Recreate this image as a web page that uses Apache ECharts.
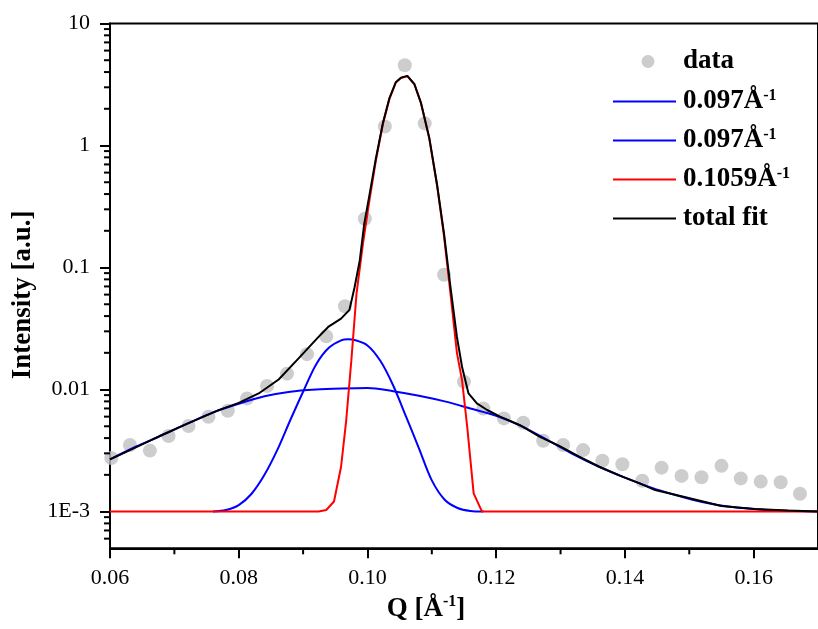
<!DOCTYPE html>
<html>
<head>
<meta charset="utf-8">
<script src="https://cdn.jsdelivr.net/npm/echarts@6/dist/echarts.min.js"></script>
<style>html,body{margin:0;padding:0;background:#fff;}#c{width:818px;height:629px;}</style>
</head>
<body>
<div id="c"></div>
<script>
// measured data points
const dataQ = [0.0602,0.0631,0.0662,0.0691,0.0722,0.0753,0.0783,0.0813,0.0844,0.0875,0.0906,0.0936,0.0965,0.0996,0.1027,0.1058,0.1089,0.1119,0.1150,0.1180,0.1212,0.1242,0.1273,0.1304,0.1335,0.1365,0.1396,0.1427,0.1457,0.1488,0.1519,0.1550,0.1580,0.1611,0.1642,0.1672];
const dataI = [2.75e-3,3.51e-3,3.16e-3,4.16e-3,5.02e-3,5.98e-3,6.70e-3,8.46e-3,1.07e-2,1.35e-2,1.95e-2,2.73e-2,4.81e-2,0.251,1.43,4.55,1.52,0.0873,1.16e-2,7.0e-3,5.8e-3,5.34e-3,3.81e-3,3.51e-3,3.19e-3,2.61e-3,2.44e-3,1.79e-3,2.29e-3,1.96e-3,1.91e-3,2.37e-3,1.87e-3,1.76e-3,1.74e-3,1.40e-3];

// broad component (0.097 Å^-1)
const broadQ = [0.060,0.064,0.068,0.072,0.076,0.080,0.084,0.088,0.092,0.096,0.100,0.104,0.108,0.112,0.116,0.120,0.124,0.128,0.132,0.136,0.140,0.144,0.148,0.152,0.156,0.160,0.164,0.170];
const broadI = [2.68e-3,3.4e-3,4.2e-3,5.25e-3,6.5e-3,7.65e-3,8.8e-3,9.6e-3,1.0e-2,1.02e-2,1.03e-2,9.7e-3,8.9e-3,8.0e-3,7.0e-3,6.1e-3,5.0e-3,3.85e-3,2.95e-3,2.33e-3,1.9e-3,1.58e-3,1.36e-3,1.2e-3,1.1e-3,1.05e-3,1.02e-3,1.0e-3];

// narrow component (0.097 Å^-1)
const narrowQ = [0.076,0.078,0.080,0.082,0.084,0.086,0.088,0.090,0.092,0.094,0.096,0.097,0.098,0.100,0.102,0.104,0.106,0.108,0.110,0.112,0.114,0.116,0.118];
const narrowI = [1.0e-3,1.03e-3,1.13e-3,1.4e-3,2.0e-3,3.2e-3,5.6e-3,9.6e-3,1.6e-2,2.2e-2,2.54e-2,2.58e-2,2.55e-2,2.3e-2,1.72e-2,1.08e-2,6.0e-3,3.3e-3,1.8e-3,1.25e-3,1.07e-3,1.01e-3,1.0e-3];

// sharp component (0.1059 Å^-1)
const sharpQ = [0.0600,0.0924,0.0936,0.0948,0.0959,0.0967,0.0975,0.0983,0.0993,0.1003,0.1013,0.1024,0.1034,0.1044,0.1052,0.1062,0.1073,0.1083,0.1096,0.1108,0.1119,0.1129,0.1139,0.1147,0.1155,0.1165,0.1178,0.1700];
const sharpI = [1.0e-3,1.0e-3,1.03e-3,1.21e-3,2.33e-3,5.6e-3,1.74e-2,0.061,0.157,0.354,0.749,1.50,2.40,3.28,3.58,3.70,3.17,2.24,1.15,0.475,0.18,0.061,0.020,0.0119,4.95e-3,1.41e-3,1.0e-3,1.0e-3];

// total fit
const totalQ = [0.0600,0.0631,0.0677,0.0723,0.0769,0.0800,0.0831,0.0862,0.0893,0.0924,0.0939,0.0959,0.0972,0.0980,0.0988,0.0995,0.1003,0.1013,0.1024,0.1034,0.1044,0.1052,0.1062,0.1073,0.1083,0.1096,0.1108,0.1119,0.1129,0.1139,0.1147,0.1157,0.1170,0.1186,0.1206,0.1237,0.1268,0.1298,0.1329,0.1360,0.1391,0.1422,0.1447,0.1499,0.1550,0.1602,0.1653,0.1700];
const totalI = [2.68e-3,3.19e-3,4.16e-3,5.34e-3,6.79e-3,7.78e-3,9.29e-3,1.21e-2,1.80e-2,2.70e-2,3.26e-2,3.81e-2,4.5e-2,6.9e-2,0.114,0.228,0.39,0.78,1.53,2.43,3.3,3.6,3.72,3.18,2.25,1.16,0.484,0.189,0.069,0.027,0.0153,9.3e-3,7.7e-3,6.8e-3,6.0e-3,5.1e-3,4.1e-3,3.45e-3,2.82e-3,2.33e-3,1.98e-3,1.71e-3,1.50e-3,1.29e-3,1.11e-3,1.05e-3,1.02e-3,1.0e-3];

// legend / labels
const seriesNames = ['data','broad','narrow','sharp','total'];
const legendMain = ['data','0.097Å','0.097Å','0.1059Å','total fit'];
const legendSup = ['','-1','-1','-1',''];
const yTickValues = [0.001,0.01,0.1,1,10];
const yTickLabels = ['1E-3','0.01','0.1','1','10'];
const yMinorTicks = [6e-4,7e-4,8e-4,9e-4,2e-3,3e-3,4e-3,5e-3,6e-3,7e-3,8e-3,9e-3,2e-2,3e-2,4e-2,5e-2,6e-2,7e-2,8e-2,9e-2,0.2,0.3,0.4,0.5,0.6,0.7,0.8,0.9,2,3,4,5,6,7,8,9];
const xMinorTicks = [0.07,0.09,0.11,0.13,0.15];

const FONT = '"Liberation Serif", "Times New Roman", serif';
const zip = (a, b) => a.map((v, i) => [v, b[i]]);

const chart = echarts.init(document.getElementById('c'));

function tickSeries(id, vals, isY) {
  return {
    type: 'custom', id: id, silent: true, clip: false, z: 10,
    data: vals.map(v => isY ? [0.06, v] : [v, 5e-4]),
    encode: {x: 0, y: 1},
    renderItem: function (params, api) {
      const c = api.coord([api.value(0), api.value(1)]);
      const shape = isY ? {x1: c[0] - 6, y1: c[1], x2: c[0], y2: c[1]}
                        : {x1: c[0], y1: c[1], x2: c[0], y2: c[1] + 6};
      return {type: 'line', shape: shape, style: {stroke: '#000', lineWidth: 2}};
    }
  };
}

const legendRich = {
  b: {fontFamily: FONT, fontSize: 27, fontWeight: 'bold', color: '#000', lineHeight: 27},
  sup: {fontFamily: FONT, fontSize: 16, fontWeight: 'bold', color: '#000', lineHeight: 16, verticalAlign: 'top'}
};
const legendFormatter = function (name) {
  const i = seriesNames.indexOf(name);
  return '{b|' + legendMain[i] + '}' + (legendSup[i] ? '{sup|' + legendSup[i] + '}' : '');
};

chart.setOption({
  animation: false,
  backgroundColor: '#fff',
  grid: {left: 110, right: -6, top: 23.5, bottom: 80.7, show: true, borderColor: '#000', borderWidth: 2},
  legend: [
    {
      orient: 'vertical', left: 641.5, top: 48, padding: 0,
      itemWidth: 13, itemHeight: 13, icon: 'circle',
      data: seriesNames.slice(0, 1),
      formatter: legendFormatter,
      textStyle: {padding: [0, 0, 0, 23.5], rich: legendRich}
    },
    {
      orient: 'vertical', left: 613, top: 88, padding: 0, itemGap: 12,
      itemWidth: 63, itemHeight: 2, icon: 'rect',
      data: seriesNames.slice(1),
      formatter: legendFormatter,
      textStyle: {padding: [0, 0, 0, 2], rich: legendRich}
    }
  ],
  xAxis: {
    type: 'value', min: 0.06, max: 0.17, interval: 0.02,
    name: '{b|Q [Å}{sup|-1}{b|]}', nameLocation: 'middle', nameGap: 45,
    nameTextStyle: {padding: [0, 76, 0, 0], rich: {
      b: {fontFamily: FONT, fontSize: 27, fontWeight: 'bold', color: '#000', lineHeight: 30},
      sup: {fontFamily: FONT, fontSize: 16, fontWeight: 'bold', color: '#000', lineHeight: 16, verticalAlign: 'top'}
    }},
    axisLine: {show: true, lineStyle: {color: '#000', width: 2}},
    axisTick: {show: true, inside: false, length: 10, lineStyle: {color: '#000', width: 2}},
    axisLabel: {fontFamily: FONT, fontSize: 22, color: '#000', margin: 19, showMaxLabel: false,
      formatter: v => v.toFixed(2)},
    splitLine: {show: false}
  },
  yAxis: {
    type: 'log', logBase: 10, min: 5e-4, max: 10,
    name: 'Intensity [a.u.]', nameLocation: 'middle', nameGap: 70, nameRotate: 90,
    nameTextStyle: {fontFamily: FONT, fontSize: 27, fontWeight: 'bold', color: '#000', padding: [0, 18, 0, 0]},
    axisLine: {show: true, lineStyle: {color: '#000', width: 2}},
    axisTick: {show: true, inside: false, length: 10, lineStyle: {color: '#000', width: 2}},
    axisLabel: {fontFamily: FONT, fontSize: 22, color: '#000', margin: 20, showMinLabel: false,
      formatter: function (v) {
        for (let i = 0; i < yTickValues.length; i++) {
          if (Math.abs(Math.log10(v) - Math.log10(yTickValues[i])) < 1e-6) return yTickLabels[i];
        }
        return '';
      }},
    splitLine: {show: false}
  },
  series: [
    {name: 'data', type: 'scatter', data: zip(dataQ, dataI), symbol: 'circle', symbolSize: 14,
     itemStyle: {color: '#c0c0c0'}, z: 2},
    {name: 'broad', type: 'line', data: zip(broadQ, broadI), symbol: 'none', smooth: 0.3,
     lineStyle: {color: '#0000ff', width: 2}, itemStyle: {color: '#0000ff'}, z: 3},
    {name: 'narrow', type: 'line', data: zip(narrowQ, narrowI), symbol: 'none', smooth: 0.3,
     lineStyle: {color: '#0000ff', width: 2}, itemStyle: {color: '#0000ff'}, z: 3},
    {name: 'sharp', type: 'line', data: zip(sharpQ, sharpI), symbol: 'none',
     lineStyle: {color: '#ff0000', width: 2}, itemStyle: {color: '#ff0000'}, z: 4},
    {name: 'total', type: 'line', data: zip(totalQ, totalI), symbol: 'none',
     lineStyle: {color: '#000000', width: 2}, itemStyle: {color: '#000000'}, z: 5},
    tickSeries('yMinor', yMinorTicks, true),
    tickSeries('xMinor', xMinorTicks, false)
  ]
});
</script>
</body>
</html>
